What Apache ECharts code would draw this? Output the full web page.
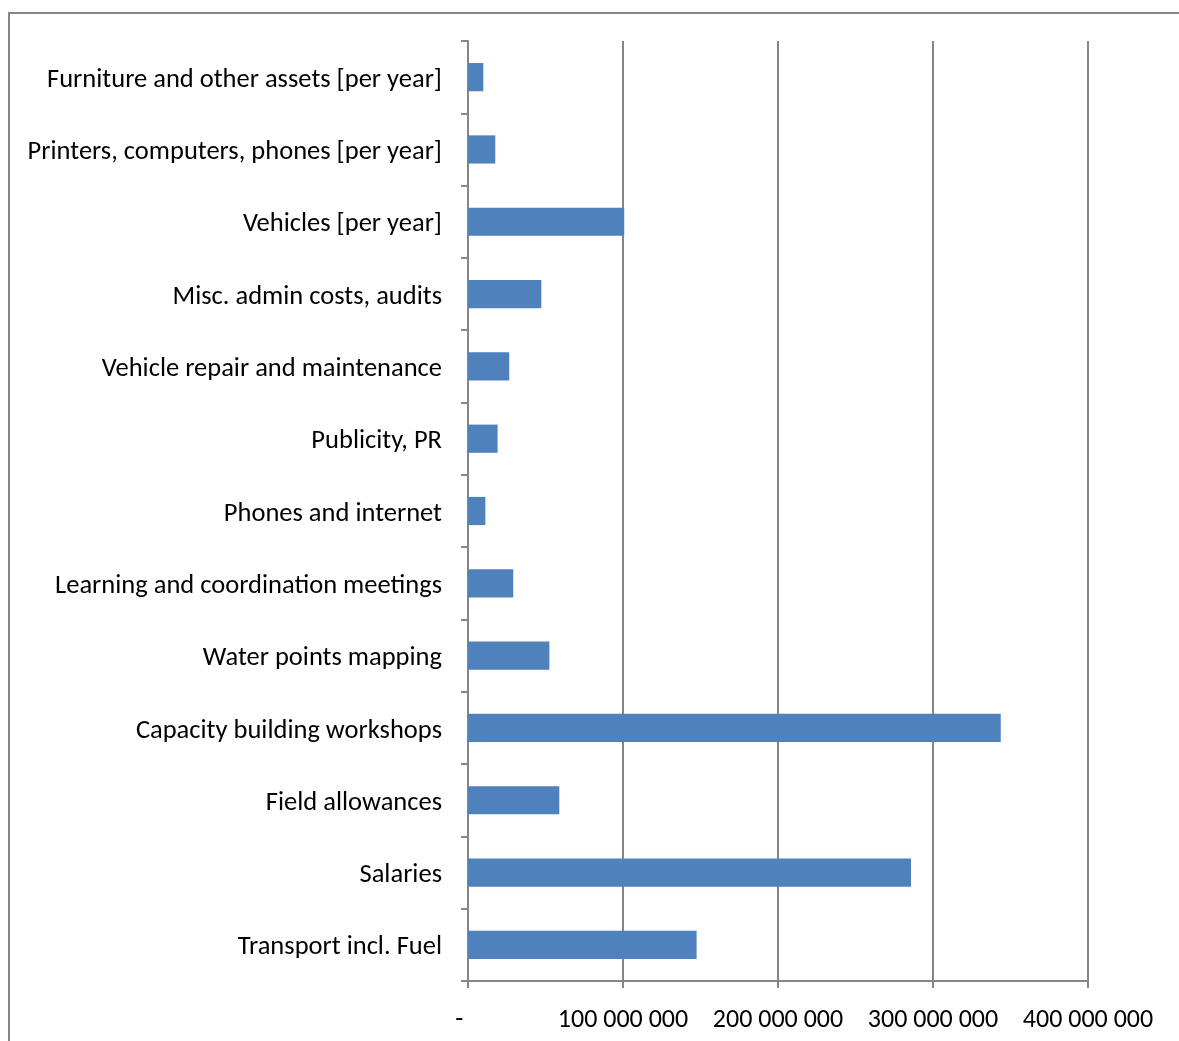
<!DOCTYPE html>
<html>
<head>
<meta charset="utf-8">
<script src="https://cdn.jsdelivr.net/npm/echarts@6/dist/echarts.min.js"></script>
<style>
html,body{margin:0;padding:0;background:#fff;}
#chart{width:1179px;height:1041px;}
</style>
</head>
<body>
<div id="chart"></div>
<script>
// Categories, top to bottom as shown
var categories = [
  "Furniture and other assets [per year]",
  "Printers, computers, phones [per year]",
  "Vehicles [per year]",
  "Misc. admin costs, audits",
  "Vehicle repair and maintenance",
  "Publicity, PR",
  "Phones and internet",
  "Learning and coordination meetings",
  "Water points mapping",
  "Capacity building workshops",
  "Field allowances",
  "Salaries",
  "Transport incl. Fuel"
];
var costs = [
  9900000,
  17600000,
  100800000,
  47300000,
  26600000,
  19100000,
  11200000,
  29200000,
  52500000,
  343700000,
  58900000,
  285800000,
  147500000
];
var tickValues = [0, 100000000, 200000000, 300000000, 400000000];
var tickLabels = ["-", "100 000 000", "200 000 000", "300 000 000", "400 000 000"];

var FONT = "Carlito, Lato, sans-serif";
var GRAY = "#868686";

var chart = echarts.init(document.getElementById('chart'), null, {renderer: 'canvas'});
chart.setOption({
  animation: false,
  backgroundColor: '#fff',
  graphic: [{
    type: 'rect',
    shape: {x: 9, y: 13, width: 1300, height: 1200},
    style: {fill: 'none', stroke: GRAY, lineWidth: 2},
    silent: true
  }],
  grid: {left: 468, top: 41, width: 620, height: 940, containLabel: false},
  xAxis: {
    type: 'value',
    position: 'bottom',
    min: 0,
    max: 400000000,
    interval: 100000000,
    axisLine: {show: true, lineStyle: {color: GRAY, width: 2}},
    axisTick: {show: true, length: 7, lineStyle: {color: GRAY, width: 2}},
    splitLine: {show: true, lineStyle: {color: GRAY, width: 2}},
    axisLabel: {
      margin: 26,
      fontFamily: FONT,
      fontSize: 26,
      color: '#000',
      formatter: function (v) {
        var i = tickValues.indexOf(v);
        var s = i >= 0 ? tickLabels[i] : '';
        return i === 0 ? s + '   ' : s;
      }
    }
  },
  yAxis: {
    type: 'category',
    inverse: true,
    data: categories,
    axisLine: {show: true, lineStyle: {color: GRAY, width: 2}},
    axisTick: {show: true, length: 7, lineStyle: {color: GRAY, width: 2}},
    splitLine: {show: false},
    axisLabel: {
      margin: 26,
      fontFamily: FONT,
      fontSize: 26.5,
      color: '#000',
      formatter: function (v) { return '{c|' + v + '}'; },
      rich: {
        c: {fontFamily: FONT, fontSize: 26.5, color: '#000', padding: [6, 0, 0, 0]}
      }
    }
  },
  series: [{
    type: 'bar',
    data: costs,
    barCategoryGap: '61%',
    itemStyle: {color: '#4F81BD'}
  }]
});
</script>
</body>
</html>
